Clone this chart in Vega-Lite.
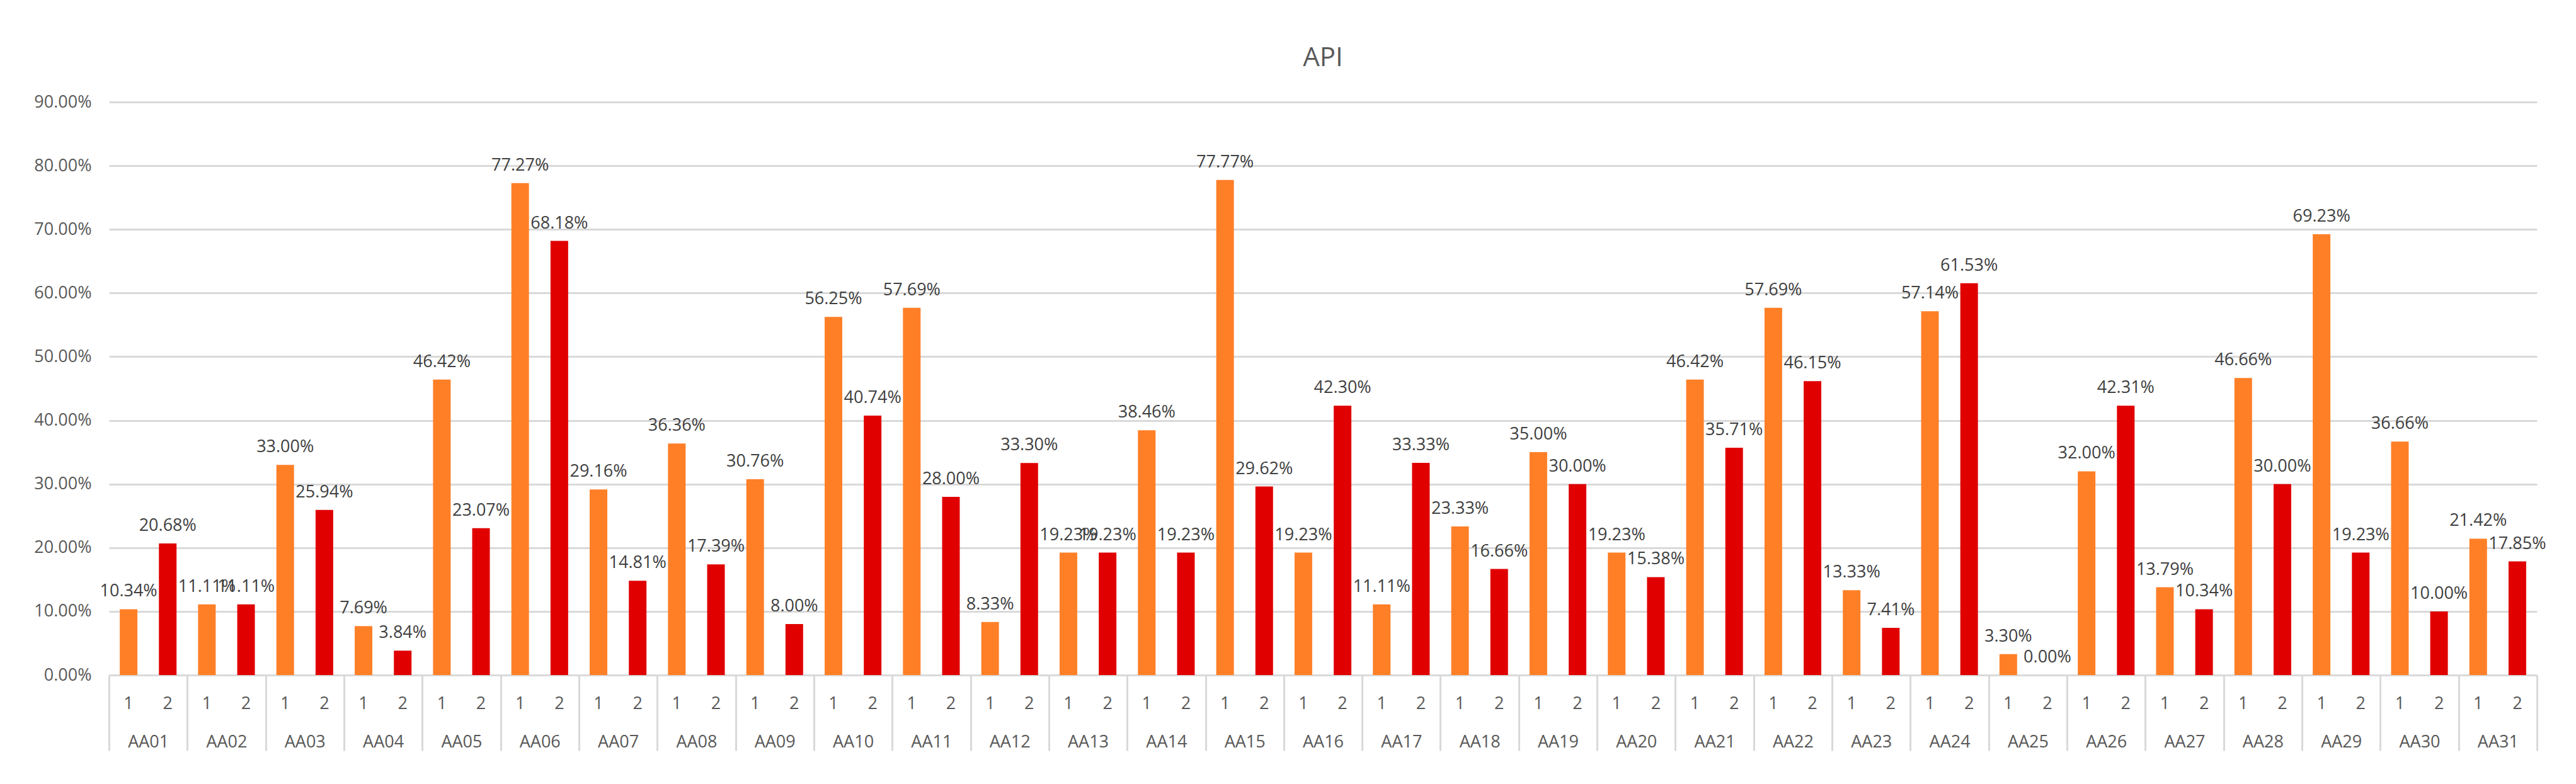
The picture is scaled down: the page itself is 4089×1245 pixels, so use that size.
{
  "$schema": "https://vega.github.io/schema/vega-lite/v6.json",
  "width": 3854,
  "height": 910,
  "autosize": {"type": "none"},
  "padding": {"left": 173, "top": 162, "right": 62, "bottom": 173},
  "background": "white",
  "config": {
    "font": "Open Sans",
    "view": {"stroke": null}
  },
  "title": {"text": "API", "fontSize": 42, "fontWeight": "normal", "color": "#595959", "font": "Open Sans", "baseline": "alphabetic", "offset": 1, "anchor": "middle"},
  "data": {"values": [
    {"group": "AA01", "sub": "1", "key": "AA01 1", "value": 0.1034},
    {"group": "AA01", "sub": "2", "key": "AA01 2", "value": 0.2068},
    {"group": "AA02", "sub": "1", "key": "AA02 1", "value": 0.1111},
    {"group": "AA02", "sub": "2", "key": "AA02 2", "value": 0.1111},
    {"group": "AA03", "sub": "1", "key": "AA03 1", "value": 0.33},
    {"group": "AA03", "sub": "2", "key": "AA03 2", "value": 0.2594},
    {"group": "AA04", "sub": "1", "key": "AA04 1", "value": 0.0769},
    {"group": "AA04", "sub": "2", "key": "AA04 2", "value": 0.0384},
    {"group": "AA05", "sub": "1", "key": "AA05 1", "value": 0.4642},
    {"group": "AA05", "sub": "2", "key": "AA05 2", "value": 0.2307},
    {"group": "AA06", "sub": "1", "key": "AA06 1", "value": 0.7727},
    {"group": "AA06", "sub": "2", "key": "AA06 2", "value": 0.6818},
    {"group": "AA07", "sub": "1", "key": "AA07 1", "value": 0.2916},
    {"group": "AA07", "sub": "2", "key": "AA07 2", "value": 0.1481},
    {"group": "AA08", "sub": "1", "key": "AA08 1", "value": 0.3636},
    {"group": "AA08", "sub": "2", "key": "AA08 2", "value": 0.1739},
    {"group": "AA09", "sub": "1", "key": "AA09 1", "value": 0.3076},
    {"group": "AA09", "sub": "2", "key": "AA09 2", "value": 0.08},
    {"group": "AA10", "sub": "1", "key": "AA10 1", "value": 0.5625},
    {"group": "AA10", "sub": "2", "key": "AA10 2", "value": 0.4074},
    {"group": "AA11", "sub": "1", "key": "AA11 1", "value": 0.5769},
    {"group": "AA11", "sub": "2", "key": "AA11 2", "value": 0.28},
    {"group": "AA12", "sub": "1", "key": "AA12 1", "value": 0.0833},
    {"group": "AA12", "sub": "2", "key": "AA12 2", "value": 0.333},
    {"group": "AA13", "sub": "1", "key": "AA13 1", "value": 0.1923},
    {"group": "AA13", "sub": "2", "key": "AA13 2", "value": 0.1923},
    {"group": "AA14", "sub": "1", "key": "AA14 1", "value": 0.3846},
    {"group": "AA14", "sub": "2", "key": "AA14 2", "value": 0.1923},
    {"group": "AA15", "sub": "1", "key": "AA15 1", "value": 0.7777},
    {"group": "AA15", "sub": "2", "key": "AA15 2", "value": 0.2962},
    {"group": "AA16", "sub": "1", "key": "AA16 1", "value": 0.1923},
    {"group": "AA16", "sub": "2", "key": "AA16 2", "value": 0.423},
    {"group": "AA17", "sub": "1", "key": "AA17 1", "value": 0.1111},
    {"group": "AA17", "sub": "2", "key": "AA17 2", "value": 0.3333},
    {"group": "AA18", "sub": "1", "key": "AA18 1", "value": 0.2333},
    {"group": "AA18", "sub": "2", "key": "AA18 2", "value": 0.1666},
    {"group": "AA19", "sub": "1", "key": "AA19 1", "value": 0.35},
    {"group": "AA19", "sub": "2", "key": "AA19 2", "value": 0.30},
    {"group": "AA20", "sub": "1", "key": "AA20 1", "value": 0.1923},
    {"group": "AA20", "sub": "2", "key": "AA20 2", "value": 0.1538},
    {"group": "AA21", "sub": "1", "key": "AA21 1", "value": 0.4642},
    {"group": "AA21", "sub": "2", "key": "AA21 2", "value": 0.3571},
    {"group": "AA22", "sub": "1", "key": "AA22 1", "value": 0.5769},
    {"group": "AA22", "sub": "2", "key": "AA22 2", "value": 0.4615},
    {"group": "AA23", "sub": "1", "key": "AA23 1", "value": 0.1333},
    {"group": "AA23", "sub": "2", "key": "AA23 2", "value": 0.0741},
    {"group": "AA24", "sub": "1", "key": "AA24 1", "value": 0.5714},
    {"group": "AA24", "sub": "2", "key": "AA24 2", "value": 0.6153},
    {"group": "AA25", "sub": "1", "key": "AA25 1", "value": 0.033},
    {"group": "AA25", "sub": "2", "key": "AA25 2", "value": 0.0},
    {"group": "AA26", "sub": "1", "key": "AA26 1", "value": 0.32},
    {"group": "AA26", "sub": "2", "key": "AA26 2", "value": 0.4231},
    {"group": "AA27", "sub": "1", "key": "AA27 1", "value": 0.1379},
    {"group": "AA27", "sub": "2", "key": "AA27 2", "value": 0.1034},
    {"group": "AA28", "sub": "1", "key": "AA28 1", "value": 0.4666},
    {"group": "AA28", "sub": "2", "key": "AA28 2", "value": 0.30},
    {"group": "AA29", "sub": "1", "key": "AA29 1", "value": 0.6923},
    {"group": "AA29", "sub": "2", "key": "AA29 2", "value": 0.1923},
    {"group": "AA30", "sub": "1", "key": "AA30 1", "value": 0.3666},
    {"group": "AA30", "sub": "2", "key": "AA30 2", "value": 0.10},
    {"group": "AA31", "sub": "1", "key": "AA31 1", "value": 0.2142},
    {"group": "AA31", "sub": "2", "key": "AA31 2", "value": 0.1785}
  ]},
  "layer": [
    {
      "encoding": {
        "x": {
          "field": "key", "type": "nominal", "sort": null,
          "scale": {"paddingInner": 0.55, "paddingOuter": 0.275},
          "axis": {
            "orient": "bottom", "title": null, "domain": false, "ticks": false, "grid": false,
            "labelAngle": 0, "labelExpr": "substring(datum.value, 5)",
            "labelFontSize": 27, "labelColor": "#595959", "labelFont": "Open Sans",
            "labelBaseline": "middle", "labelPadding": 45
          }
        },
        "y": {
          "field": "value", "type": "quantitative",
          "scale": {"domain": [0, 0.9], "nice": false},
          "axis": {
            "title": null, "values": [0, 0.1, 0.2, 0.3, 0.4, 0.5, 0.6, 0.7, 0.8, 0.9],
            "format": ".2%", "domain": false, "ticks": false,
            "grid": true, "gridColor": "#d9d9d9", "gridWidth": 3,
            "labelFontSize": 27, "labelColor": "#595959", "labelFont": "Open Sans",
            "labelPadding": 28
          }
        }
      },
      "layer": [
        {
          "mark": {"type": "bar"},
          "encoding": {
            "color": {
              "field": "sub", "type": "nominal",
              "scale": {"domain": ["1", "2"], "range": ["#FF7F27", "#E00000"]},
              "legend": null
            }
          }
        },
        {
          "mark": {"type": "text", "baseline": "alphabetic", "align": "center", "dy": -20, "fontSize": 27, "color": "#404040", "font": "Open Sans"},
          "encoding": {
            "text": {"field": "value", "type": "quantitative", "format": ".2%"}
          }
        }
      ]
    },
    {
      "mark": {"type": "point", "opacity": 0},
      "encoding": {
        "x": {
          "field": "group", "type": "nominal", "sort": null,
          "scale": {"paddingInner": 0, "paddingOuter": 0},
          "axis": {
            "orient": "bottom", "title": null, "grid": false,
            "domain": true, "domainColor": "#d9d9d9", "domainWidth": 3,
            "ticks": true, "tickBand": "extent", "tickSize": 120, "tickColor": "#d9d9d9", "tickWidth": 3,
            "labelAngle": 0, "labelFontSize": 27, "labelColor": "#595959", "labelFont": "Open Sans",
            "labelBaseline": "middle", "labelPadding": -14
          }
        }
      }
    }
  ],
  "resolve": {"scale": {"x": "independent"}, "axis": {"x": "independent"}}
}
